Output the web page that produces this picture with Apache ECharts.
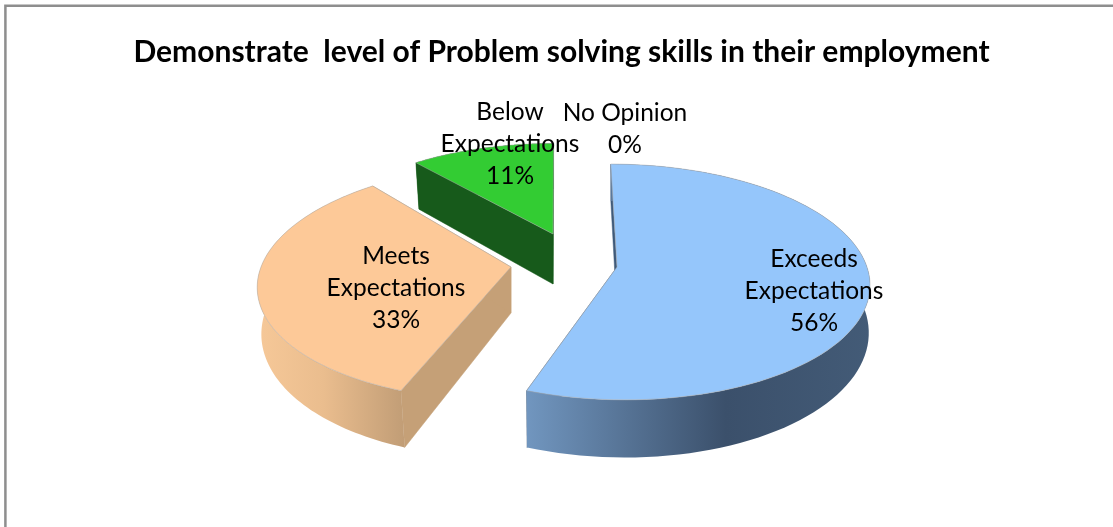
<!DOCTYPE html>
<html><head><meta charset="utf-8">
<style>html,body{margin:0;padding:0;background:#fff}#c{width:1113px;height:527px}</style>
<script src="https://cdn.jsdelivr.net/npm/echarts@6/dist/echarts.min.js"></script>
</head><body><div id="c"></div>
<script>
const titleText = 'Demonstrate  level of Problem solving skills in their employment';
const categories = ['Exceeds Expectations', 'Meets Expectations', 'Below Expectations', 'No Opinion'];
const shares = [55.6, 33.3, 11.1, 0];

// Drawing style and projection of each slice (not data)
const P = 0.127, RX = 250, RY = 116;
const looks = [
  {ax:617, ay:267, lean:55,  kx:1,   ky:1,   d0:46, d1:80, dk:0.995, dl:0,  top:'#95c6fb', cut:'#3f5a7a',
   wall:[[0,'#7196bf'],[0.58,'#3b506b'],[1,'#435b77']]},
  {ax:511, ay:267, lean:-90, kx:1,   ky:1,   d0:46, d1:80, dk:0.985, dl:15, top:'#fdc998', cut:'#c5a077',
   wall:[[0,'#f6c898'],[0.45,'#eabd8e'],[1,'#c19d76']]},
  {ax:553, ay:234, lean:-5,  kx:0.94,ky:0.88,d0:50, d1:40, dk:0.978, dl:0,  top:'#33cc33', cut:'#175a1b',
   wall:[[0,'#175a1b'],[1,'#175a1b']]},
  {}
];
const labelCentres = [[814,291],[396,288],[510,144],[625,129]];

function project(l, u, v) {
  const s = 1 / (1 - P * v);
  return {
    x: l.ax + l.kx * RX * u * s + l.lean * (s - 1),
    y: l.ay + l.ky * RY * v * s,
    s
  };
}
function down(l, p) {
  return [l.ax + (p.x - l.ax) * l.dk + l.dl * (p.s - 1), p.y + l.d0 + l.d1 * (p.s - 1)];
}
const total = shares.reduce((a, b) => a + b, 0);

function renderItem(params, api) {
  const i = params.dataIndex;
  const l = looks[i];
  const children = [];
  const val = api.value(0);
  if (val > 0) {
    let before = 0;
    for (let k = 0; k < i; k++) before += shares[k];
    const a0 = before / total * 2 * Math.PI, a1 = (before + val) / total * 2 * Math.PI;
    const arc = [];
    const N = 90;
    for (let k = 0; k <= N; k++) {
      const a = a0 + (a1 - a0) * k / N;
      arc.push(project(l, Math.sin(a), -Math.cos(a)));
    }
    const apex = project(l, 0, 0);
    const pts = p => [p.x, p.y];
    const face = (p, q, fill) => ({
      type: 'polygon',
      shape: {points: [pts(p), pts(q), down(l, q), down(l, p)]},
      style: {fill, stroke: fill, lineWidth: 0.5}
    });
    // the two cut faces
    children.push(face(apex, arc[0], l.cut));
    children.push(face(apex, arc[N], l.cut));
    // outer wall
    children.push({
      type: 'polygon',
      shape: {points: arc.map(pts).concat(arc.slice().reverse().map(p => down(l, p)))},
      style: {
        fill: new echarts.graphic.LinearGradient(0, 0, 1, 0,
          l.wall.map(w => ({offset: w[0], color: w[1]})))
      }
    });
    // top face
    children.push({
      type: 'polygon',
      shape: {points: [pts(apex)].concat(arc.map(pts))},
      style: {fill: l.top, stroke: 'rgba(170,170,170,0.5)', lineWidth: 1}
    });
  }
  const c = labelCentres[i];
  const name = categories[i].replace(' Expectations', '\nExpectations');
  children.push({
    type: 'text',
    z2: 10,
    style: {
      text: name + '\n' + Math.round(val) + '%',
      x: c[0], y: c[1],
      align: 'center', verticalAlign: 'middle',
      fill: '#000', font: '24.5px Lato', lineHeight: 32
    }
  });
  return {type: 'group', children};
}

const chart = echarts.init(document.getElementById('c'), null, {renderer: 'canvas'});
chart.setOption({
  animation: false,
  backgroundColor: '#fff',
  title: {
    text: titleText, left: 556.5, top: 32, textAlign: 'center',
    textStyle: {fontFamily: 'Lato', fontWeight: 'bold', fontSize: 30, color: '#000'}
  },
  graphic: [{
    type: 'polyline', silent: true,
    shape: {points: [[5.4, 527], [5.4, 5.7], [1113, 5.7]]},
    style: {stroke: '#8e8e8e', lineWidth: 2.5, fill: null}
  }],
  series: [{
    type: 'custom',
    coordinateSystem: 'none',
    renderItem,
    data: shares.map(v => [v])
  }]
});
</script></body></html>
